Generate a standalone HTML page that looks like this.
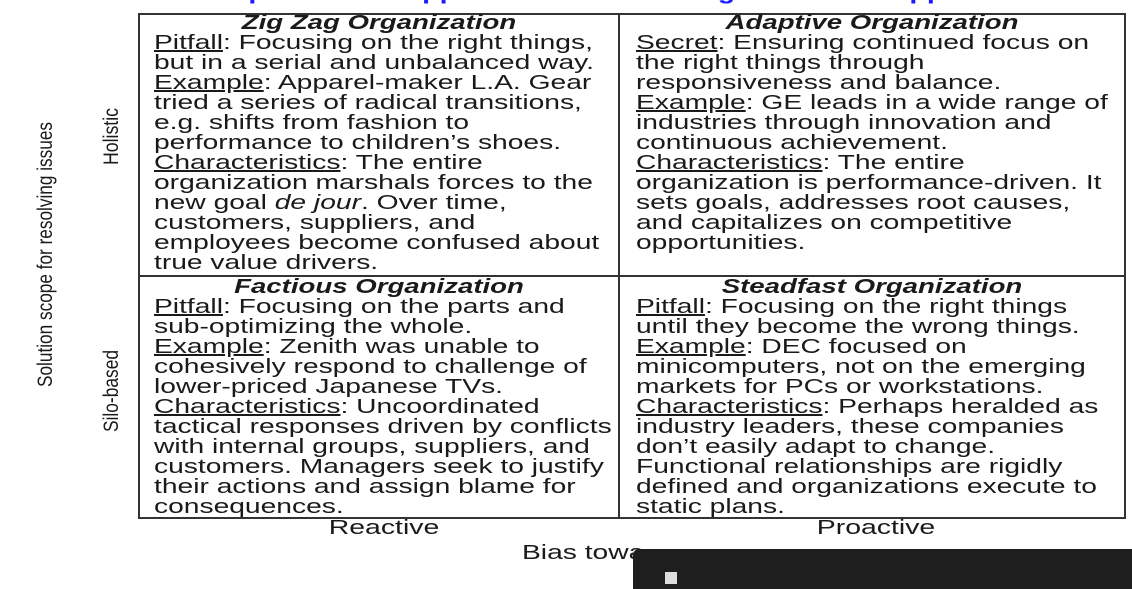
<!DOCTYPE html>
<html><head><meta charset="utf-8"><style>
body{margin:0;width:1132px;height:578px;background:#fff;position:relative;overflow:hidden;font-family:"Liberation Sans",Arial,sans-serif;color:#1a1a1a}
.t{position:absolute;font-size:20px;line-height:20px;white-space:nowrap;transform:scaleX(1.41);transform-origin:0 0}
.h{position:absolute;font-size:20px;line-height:20px;font-weight:bold;font-style:italic;white-space:nowrap;transform:translateX(-50%) scaleX(1.38);}
.c{position:absolute;font-size:20px;line-height:20px;white-space:nowrap;transform:translateX(-50%) scaleX(1.42);}
u{text-decoration:underline}
.l{position:absolute;background:#333}
</style></head><body>
<div style="position:absolute;left:215px;top:-21px;color:#1a1aff;font-weight:bold;font-size:22px;white-space:nowrap;transform:scaleX(1.3);transform-origin:0 0">Improvement Approaches and the Organization's Approach to Change</div>

<div class="l" style="left:138px;top:13px;width:988px;height:2px"></div>
<div class="l" style="left:138px;top:275px;width:988px;height:2px"></div>
<div class="l" style="left:138px;top:517px;width:988px;height:2px"></div>
<div class="l" style="left:138px;top:13px;width:2px;height:506px"></div>
<div class="l" style="left:618px;top:13px;width:2px;height:506px"></div>
<div class="l" style="left:1124px;top:13px;width:2px;height:506px"></div>

<div class="h" style="left:379px;top:13px">Zig Zag Organization</div>
<div class="t" style="left:154px;top:33px"><u>Pitfall</u>: Focusing on the right things,<br>but in a serial and unbalanced way.<br><u>Example</u>: Apparel-maker L.A. Gear<br>tried a series of radical transitions,<br>e.g. shifts from fashion to<br>performance to children’s shoes.<br><u>Characteristics</u>: The entire<br>organization marshals forces to the<br>new goal <i>de jour</i>. Over time,<br>customers, suppliers, and<br>employees become confused about<br>true value drivers.</div>

<div class="h" style="left:872px;top:13px">Adaptive Organization</div>
<div class="t" style="left:636px;top:33px"><u>Secret</u>: Ensuring continued focus on<br>the right things through<br>responsiveness and balance.<br><u>Example</u>: GE leads in a wide range of<br>industries through innovation and<br>continuous achievement.<br><u>Characteristics</u>: The entire<br>organization is performance-driven. It<br>sets goals, addresses root causes,<br>and capitalizes on competitive<br>opportunities.</div>

<div class="h" style="left:379px;top:277px">Factious Organization</div>
<div class="t" style="left:154px;top:297px"><u>Pitfall</u>: Focusing on the parts and<br>sub-optimizing the whole.<br><u>Example</u>: Zenith was unable to<br>cohesively respond to challenge of<br>lower-priced Japanese TVs.<br><u>Characteristics</u>: Uncoordinated<br>tactical responses driven by conflicts<br>with internal groups, suppliers, and<br>customers.  Managers seek to justify<br>their actions and assign blame for<br>consequences.</div>

<div class="h" style="left:872px;top:277px">Steadfast Organization</div>
<div class="t" style="left:636px;top:297px"><u>Pitfall</u>: Focusing on the right things<br>until they become the wrong things.<br><u>Example</u>: DEC focused on<br>minicomputers, not on the emerging<br>markets for PCs or workstations.<br><u>Characteristics</u>:  Perhaps heralded as<br>industry leaders, these companies<br>don’t easily adapt to change.<br>Functional relationships are rigidly<br>defined and organizations execute to<br>static plans.</div>

<div class="c" style="left:384px;top:518px">Reactive</div>
<div class="c" style="left:876px;top:518px">Proactive</div>
<div class="t" style="left:522px;top:543px">Bias towa</div>

<svg style="position:absolute;left:0;top:0" width="140" height="520">
<text x="0" y="0" font-family="Liberation Sans,Arial,sans-serif" font-size="21" fill="#1a1a1a" textLength="265" lengthAdjust="spacingAndGlyphs" transform="translate(52,387) rotate(-90)">Solution scope for resolving issues</text>
<text x="0" y="0" font-family="Liberation Sans,Arial,sans-serif" font-size="21" fill="#1a1a1a" textLength="57" lengthAdjust="spacingAndGlyphs" transform="translate(118,165) rotate(-90)">Holistic</text>
<text x="0" y="0" font-family="Liberation Sans,Arial,sans-serif" font-size="21" fill="#1a1a1a" textLength="82" lengthAdjust="spacingAndGlyphs" transform="translate(118,432) rotate(-90)">Silo-based</text>
</svg>

<div style="position:absolute;z-index:10;left:633px;top:549px;width:520px;height:40px;background:#1e1e1e;border-top-left-radius:6px"></div>
<div style="position:absolute;z-index:11;left:665px;top:572px;width:12px;height:12px;background:#ddd"></div>
</body></html>
